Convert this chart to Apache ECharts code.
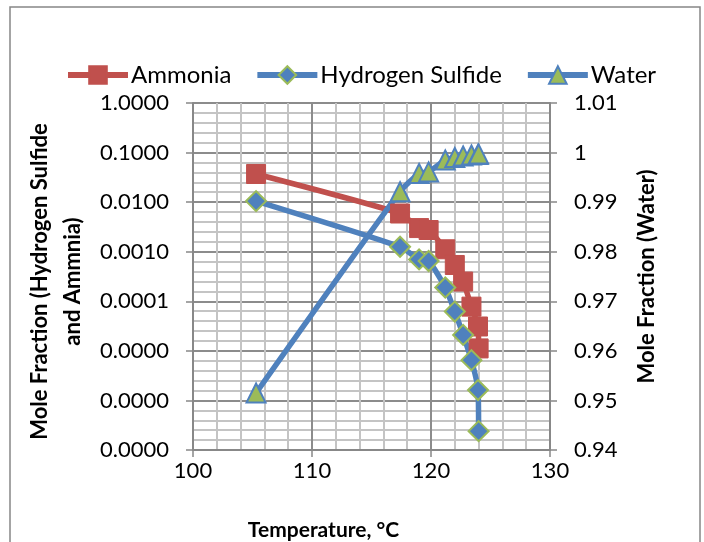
<!DOCTYPE html>
<html><head><meta charset="utf-8">
<script src="https://cdn.jsdelivr.net/npm/echarts@6/dist/echarts.min.js"></script>
<style>html,body{margin:0;padding:0;background:#fff}#c{width:704px;height:542px}</style>
</head><body><div id="c"></div>
<script>
const temperature = [105.3, 117.4, 119.0, 119.8, 121.2, 122.0, 122.7, 123.4, 123.95, 124.0];
const ammonia = [0.037, 0.0059, 0.0030, 0.00274, 0.00112, 0.00054, 0.00025, 0.000078, 0.000031, 0.0000112];
const hydrogenSulfide = [0.0105, 0.00126, 0.00070, 0.00065, 0.00019, 0.000062, 0.000021, 0.0000065, 0.00000162, 0.00000024];
const water = [0.9515, 0.9921, 0.9958, 0.9961, 0.9985, 0.9990, 0.9993, 0.9995, 0.9996, 0.9997];

const FONT = 'Lato';
const pairs = (ys, xs) => ys.map((y, i) => [xs[i], y]);

const chart = echarts.init(document.getElementById('c'), null, {renderer: 'canvas'});
chart.setOption({
  animation: false,
  backgroundColor: '#fff',
  textStyle: {fontFamily: FONT},
  graphic: [{type: 'rect', shape: {x: 10, y: 7, width: 690, height: 545}, style: {fill: 'none', stroke: '#868686', lineWidth: 1.5}, silent: true}],
  legend: {
    left: 60, top: 58, itemWidth: 60, itemHeight: 22, itemGap: 23,
    textStyle: {fontFamily: FONT, fontSize: 24, color: '#000', padding: [0, 0, 0, -2]},
    lineStyle: {width: 6},
    data: ['Ammonia', 'Hydrogen Sulfide', 'Water']
  },
  grid: {left: 193, right: 154, top: 103, bottom: 92, containLabel: false, outerBoundsMode: 'none'},
  xAxis: {
    type: 'value', min: 100, max: 130, interval: 10,
    name: 'Temperature, °C', nameLocation: 'middle', nameGap: 70,
    nameTextStyle: {fontFamily: FONT, fontSize: 21, fontWeight: 'bold', color: '#000', padding: [0, 96, 0, 0]},
    axisLine: {show: true, lineStyle: {color: '#888', width: 2}},
    axisTick: {show: true, length: 7, lineStyle: {color: '#888', width: 1.5}},
    axisLabel: {fontFamily: FONT, fontSize: 22, color: '#000', margin: 10},
    splitLine: {show: true, lineStyle: {color: '#8c8c8c', width: 2}},
    minorTick: {show: false, splitNumber: 5},
    minorSplitLine: {show: true, lineStyle: {color: '#c4c4c4', width: 2}}
  },
  yAxis: [{
    type: 'log', logBase: 10, min: 1e-7, max: 1, position: 'left',
    name: 'Mole Fraction (Hydrogen Sulfide\nand Ammnia)', nameLocation: 'middle', nameRotate: 90, nameGap: 86,
    nameTextStyle: {fontFamily: FONT, fontSize: 22, fontWeight: 'bold', color: '#000', lineHeight: 33, padding: [0, 10, 0, 0]},
    axisLine: {show: true, lineStyle: {color: '#888', width: 2}},
    axisTick: {show: true, length: 7, lineStyle: {color: '#888', width: 1.5}},
    axisLabel: {fontFamily: FONT, fontSize: 22, color: '#000', margin: 24, formatter: v => v.toFixed(4)},
    splitLine: {show: false}
  }, {
    type: 'value', min: 0.94, max: 1.01, interval: 0.01, position: 'right',
    name: 'Mole Fraction (Water)', nameLocation: 'middle', nameRotate: 90, nameGap: 86,
    nameTextStyle: {fontFamily: FONT, fontSize: 22, fontWeight: 'bold', color: '#000'},
    axisLine: {show: true, lineStyle: {color: '#888', width: 2}},
    axisTick: {show: true, length: 7, lineStyle: {color: '#888', width: 1.5}},
    axisLabel: {fontFamily: FONT, fontSize: 22, color: '#000', margin: 24, formatter: v => String(Math.round(v * 100) / 100)},
    splitLine: {show: true, lineStyle: {color: '#8c8c8c', width: 2}},
    minorTick: {show: false, splitNumber: 5},
    minorSplitLine: {show: true, lineStyle: {color: '#c4c4c4', width: 2}}
  }],
  series: [{
    name: 'Ammonia', type: 'line', yAxisIndex: 0, data: pairs(ammonia, temperature),
    symbol: 'rect', symbolSize: 19, smooth: 0.2,
    lineStyle: {color: '#C0504D', width: 5.5},
    itemStyle: {color: '#C0504D', borderColor: '#C0504D', borderWidth: 1}
  }, {
    name: 'Hydrogen Sulfide', type: 'line', yAxisIndex: 0, data: pairs(hydrogenSulfide, temperature),
    symbol: 'diamond', symbolSize: 20, smooth: 0.2,
    lineStyle: {color: '#4F81BD', width: 5.5},
    itemStyle: {color: '#4F81BD', borderColor: '#9BBB59', borderWidth: 2}
  }, {
    name: 'Water', type: 'line', yAxisIndex: 1, data: pairs(water, temperature),
    symbol: 'triangle', symbolSize: 19, smooth: 0.2,
    lineStyle: {color: '#4F81BD', width: 5.5},
    itemStyle: {color: '#9BBB59', borderColor: '#4F81BD', borderWidth: 2}
  }]
});
</script></body></html>
